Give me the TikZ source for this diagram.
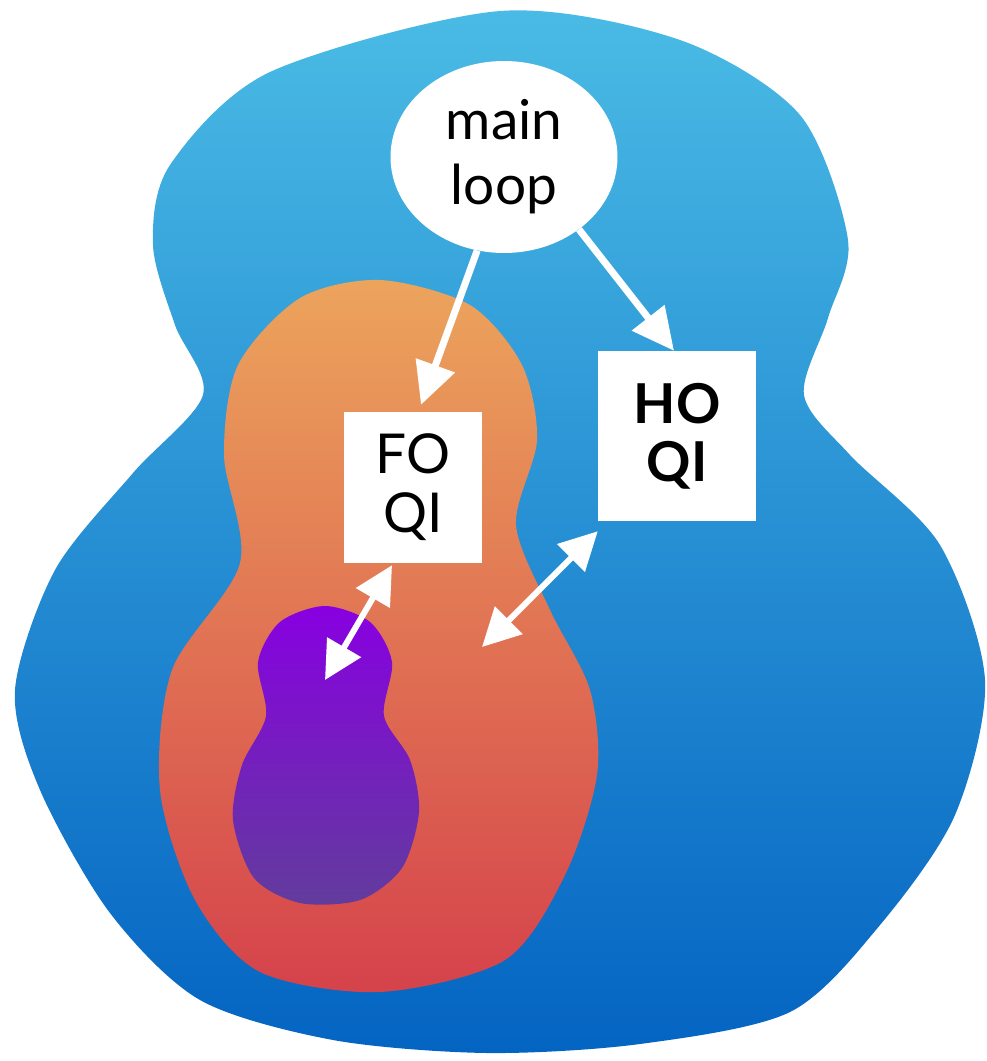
\documentclass[tikz,border=0pt]{standalone}
\usepackage{fontspec}
\setmainfont{Lato}
\usetikzlibrary{arrows.meta, shapes.geometric}
\definecolor{bluetop}{RGB}{74,187,229}
\definecolor{bluebot}{RGB}{4,100,194}
\definecolor{orangetop}{RGB}{236,164,92}
\definecolor{orangebot}{RGB}{213,66,75}
\definecolor{purpletop}{RGB}{136,0,225}
\definecolor{purplebot}{RGB}{98,60,156}
\begin{document}
\begin{tikzpicture}[x=1pt, y=-1pt,
    arr/.style={white, line width=7pt, -{Triangle[length=42pt, width=40pt]}},
    darr/.style={white, line width=6pt, {Triangle[length=38pt, width=38pt]}-{Triangle[length=38pt, width=38pt]}},
    box/.style={rectangle, fill=white, align=center, inner sep=0pt}]
    \useasboundingbox (0,0) rectangle (987,1061);
    \shade[top color=bluetop, bottom color=bluebot] plot[smooth cycle] coordinates {
        (500,11) (680,40) (800,115) (848,240) (828,318) (804,395) (850,455) (940,545)
        (985,680) (955,815) (880,925) (790,1012) (640,1044) (487,1053) (333,1040) (200,1000)
        (110,913) (40,790) (15,690) (55,570) (133,473) (203,395) (175,325) (153,245)
        (170,165) (270,72)};
    \shade[top color=orangetop, bottom color=orangebot] plot[smooth cycle] coordinates {
        (380,280) (470,305) (522,365) (537,440) (516,525) (550,610) (590,690) (597,775)
        (565,875) (505,960) (380,992) (260,972) (195,900) (160,790) (172,670) (240,563)
        (224,455) (238,365) (300,298)};
    \shade[top color=purpletop, bottom color=purplebot] plot[smooth cycle] coordinates {
        (325,606) (370,622) (392,662) (384,716) (410,760) (419,812) (402,868) (360,900)
        (300,903) (254,878) (233,820) (242,765) (266,716) (258,662) (280,622)};
    \node[ellipse, fill=white, minimum width=227pt, minimum height=192pt, inner sep=0pt, align=center,
        font=\fontsize{55}{65}\selectfont] (ml) at (504,157) {main\\loop};
    \node[box, minimum width=138pt, minimum height=151pt, font=\fontsize{55}{59}\selectfont] (fo) at (413,487.5) {FO\\QI};
    \node[box, minimum width=158pt, minimum height=170pt, font=\fontsize{55}{58}\selectfont\bfseries] (ho) at (677,436) {HO\\QI};
    \coordinate (pu) at (325,680);
    \coordinate (or) at (482,647);
    \draw[arr] (ml.-106) -- ([xshift=8pt, yshift=7pt]fo.north);
    \draw[arr] (ml.-44) -- ([xshift=-3pt]ho.north);
    \draw[darr] (pu) -- ([xshift=-21pt, yshift=-2pt]fo.south);
    \draw[darr] (or) -- ([yshift=-10pt]ho.south west);
\end{tikzpicture}
\end{document}
